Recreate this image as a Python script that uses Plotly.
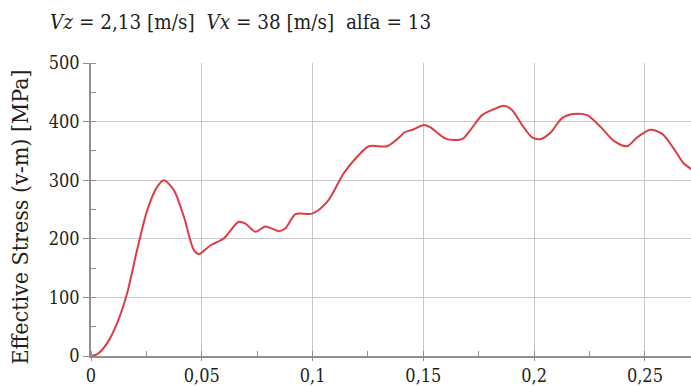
import plotly.graph_objects as go

time_s = [0, 0.0028, 0.0073, 0.0118, 0.0163, 0.0208, 0.0254, 0.0299, 0.0329, 0.0374,
          0.0419, 0.0464, 0.0487, 0.054, 0.060, 0.0667, 0.0697, 0.0742, 0.0787, 0.0848,
          0.0878, 0.0923, 0.0998, 0.1066, 0.1141, 0.1201, 0.1254, 0.1337, 0.1397, 0.1412,
          0.1457, 0.1502, 0.1532, 0.160, 0.1675, 0.1713, 0.1765, 0.1818, 0.1863, 0.190,
          0.1946, 0.1991, 0.2028, 0.2074, 0.2126, 0.2179, 0.2239, 0.230, 0.236, 0.242,
          0.2465, 0.2525, 0.2578, 0.263, 0.2675, 0.271]
stress_mpa = [0, 3, 22, 56, 107, 181, 249, 289, 300, 283,
              238, 181, 174, 189, 201, 229, 226, 212, 221, 213,
              218, 242, 243, 263, 312, 340, 358, 358, 375, 381,
              387, 394, 390, 371, 370, 386, 411, 421, 427, 420,
              394, 373, 370, 381, 406, 413, 411, 391, 367, 358,
              373, 386, 379, 354, 329, 319]

x_tickvals = [0, 0.05, 0.1, 0.15, 0.2, 0.25]
x_ticktext = ["0", "0,05", "0,1", "0,15", "0,2", "0,25"]
y_tickvals = [0, 100, 200, 300, 400, 500]

title_text = "<i>Vz</i> = 2,13 [m/s]\u00a0\u00a0<i>Vx</i> = 38 [m/s]\u00a0\u00a0alfa = 13"
y_title = "Effective Stress (v-m) [MPa]"

FONT = "DejaVu Serif Condensed, DejaVu Serif, serif"
TXT = "#231f20"

fig = go.Figure()
fig.add_trace(go.Scatter(
    x=time_s, y=stress_mpa, mode="lines",
    line=dict(color="#dc3d44", width=2, shape="spline", smoothing=0.8),
    showlegend=False, hoverinfo="skip"))

fig.update_layout(
    width=691, height=386,
    margin=dict(l=91, r=0, t=63, b=30),
    paper_bgcolor="white", plot_bgcolor="white",
    font=dict(family=FONT, size=18, color=TXT),
    xaxis=dict(range=[0, 0.2708], tickvals=x_tickvals, ticktext=x_ticktext,
               showgrid=True, gridcolor="#c8c8c8", gridwidth=1,
               showline=True, linecolor="#8f8f8f", linewidth=1.5,
               ticks="outside", ticklen=3, tickcolor="#8f8f8f",
               minor=dict(dtick=0.025, tick0=0, ticks="inside", ticklen=5,
                          tickcolor="#8f8f8f", showgrid=False),
               zeroline=False, tickfont=dict(size=18, family=FONT, color=TXT)),
    yaxis=dict(range=[0, 500], tickvals=y_tickvals,
               showgrid=True, gridcolor="#c8c8c8", gridwidth=1,
               showline=True, linecolor="#8f8f8f", linewidth=1.5,
               ticks="outside", ticklen=6, tickcolor="#8f8f8f",
               minor=dict(dtick=50, tick0=0, ticks="inside", ticklen=5,
                          tickcolor="#8f8f8f", showgrid=False),
               zeroline=False, tickfont=dict(size=18, family=FONT, color=TXT)),
)
fig.add_annotation(text=title_text, xref="paper", yref="paper",
                   x=(48 - 91) / 600, y=1 + (63 - 22) / 293,
                   xanchor="left", yanchor="middle", showarrow=False,
                   font=dict(size=20.5, family=FONT, color=TXT))
fig.add_annotation(text=y_title, xref="paper", yref="paper",
                   x=(19 - 91) / 600, y=(356 - 68) / 293, textangle=-90,
                   xanchor="center", yanchor="top", showarrow=False,
                   font=dict(size=23, family=FONT, color=TXT))

fig.write_html("out.html")
